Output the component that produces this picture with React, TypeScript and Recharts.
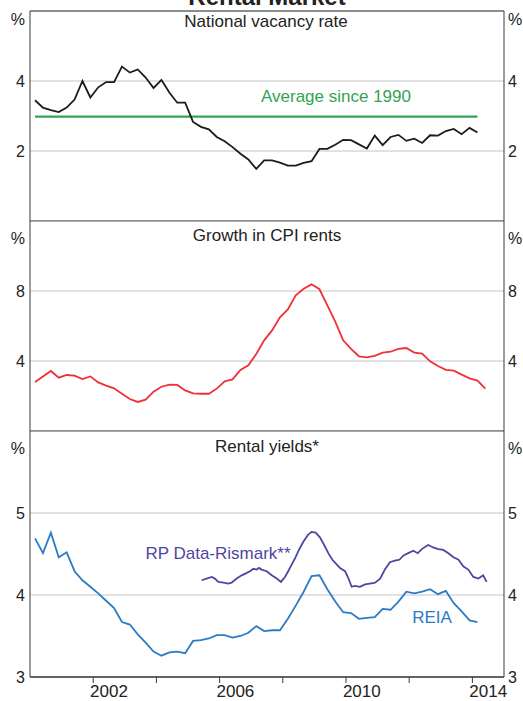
import { LineChart, Line, XAxis, YAxis, CartesianGrid } from "recharts";

const FONT = "'Liberation Sans', Arial, sans-serif";
const TEXT = "#222";
const FRAME = "#3a3a3a";
const GRID = "#c4c4c4";

// quarterly series start at Q1 2000
const quarterStart = 2000.16;

const vacancyRate = [
  3.45, 3.24, 3.17, 3.11, 3.24, 3.47, 4.0, 3.53, 3.82, 3.97,
  3.97, 4.41, 4.24, 4.33, 4.1, 3.8, 4.03, 3.67, 3.38, 3.38,
  2.83, 2.69, 2.62, 2.4, 2.28, 2.11, 1.92, 1.76, 1.49, 1.73,
  1.73, 1.67, 1.58, 1.58, 1.66, 1.71, 2.06, 2.06, 2.18, 2.32,
  2.31, 2.19, 2.07, 2.44, 2.17, 2.4, 2.46, 2.29, 2.35, 2.23,
  2.45, 2.44, 2.57, 2.63, 2.48, 2.66, 2.53,
];
const averageSince1990 = 2.98;

const cpiRents = [
  2.8, 3.12, 3.43, 3.05, 3.2, 3.16, 2.97, 3.12, 2.78, 2.59,
  2.44, 2.13, 1.83, 1.66, 1.79, 2.25, 2.53, 2.65, 2.63, 2.32,
  2.15, 2.13, 2.13, 2.42, 2.84, 2.95, 3.49, 3.75, 4.4, 5.18,
  5.75, 6.5, 6.95, 7.75, 8.13, 8.38, 8.1, 7.18, 6.25, 5.18,
  4.69, 4.27, 4.21, 4.29, 4.48, 4.53, 4.69, 4.74, 4.48, 4.42,
  3.98, 3.71, 3.49, 3.45, 3.22, 3.01, 2.88, 2.42,
];

const reiaYield = [
  4.69, 4.51, 4.76, 4.46, 4.52, 4.29, 4.18, 4.1, 4.02, 3.93,
  3.84, 3.67, 3.64, 3.52, 3.42, 3.31, 3.26, 3.3, 3.31, 3.29,
  3.44, 3.45, 3.47, 3.51, 3.51, 3.48, 3.5, 3.54, 3.62, 3.56,
  3.57, 3.57, 3.71, 3.87, 4.04, 4.23, 4.24, 4.07, 3.92, 3.79,
  3.78, 3.71, 3.72, 3.73, 3.83, 3.82, 3.92, 4.04, 4.02, 4.04,
  4.07, 4.01, 4.05, 3.9, 3.8, 3.69, 3.67,
];

const rpDates = [
  2005.43, 2005.59, 2005.75, 2005.85, 2005.96, 2006.12, 2006.28, 2006.38, 2006.54, 2006.7,
  2006.86, 2006.96, 2007.07, 2007.17, 2007.25, 2007.33, 2007.49, 2007.65, 2007.81, 2007.94,
  2008.07, 2008.17, 2008.28, 2008.39, 2008.51, 2008.65, 2008.79, 2008.91, 2009.04, 2009.18,
  2009.31, 2009.44, 2009.57, 2009.71, 2009.81, 2009.97, 2010.07, 2010.18, 2010.28, 2010.44,
  2010.6, 2010.76, 2010.92, 2011.08, 2011.23, 2011.39, 2011.55, 2011.69, 2011.81, 2011.97,
  2012.13, 2012.27, 2012.4, 2012.6, 2012.76, 2012.92, 2013.08, 2013.24, 2013.4, 2013.56,
  2013.71, 2013.87, 2014.03, 2014.19, 2014.34, 2014.45,
];
const rpYield = [
  4.18, 4.2, 4.22, 4.2, 4.16, 4.15, 4.14, 4.15, 4.2, 4.24,
  4.27, 4.29, 4.32, 4.31, 4.33, 4.31, 4.29, 4.24, 4.2, 4.16,
  4.22, 4.29, 4.37, 4.45, 4.55, 4.65, 4.73, 4.77, 4.76, 4.7,
  4.61, 4.51, 4.43, 4.37, 4.33, 4.29, 4.21, 4.1, 4.11, 4.1,
  4.13, 4.14, 4.15, 4.2, 4.31, 4.4, 4.42, 4.43, 4.48, 4.51,
  4.54, 4.51, 4.56, 4.61, 4.58, 4.56, 4.55, 4.51, 4.46, 4.43,
  4.35, 4.31, 4.22, 4.2, 4.24, 4.16,
];

const yearTicks = [2001, 2002, 2003, 2004, 2005, 2006, 2007, 2008, 2009, 2010, 2011, 2012, 2013, 2014];
const yearLabels = [2002.5, 2006.5, 2010.5, 2014.5];

const quarterly = (vals: number[]) => vals.map((v, i) => ({ x: quarterStart + i * 0.25, v }));
const vacancyData = quarterly(vacancyRate);
const cpiData = quarterly(cpiRents);
const reiaData = quarterly(reiaYield);
const rpData = rpDates.map((x, i) => ({ x, v: rpYield[i] }));
const avgData = [
  { x: vacancyData[0].x, v: averageSince1990 },
  { x: vacancyData[vacancyData.length - 1].x, v: averageSince1990 },
];

function PanelTick(props: any) {
  const { x, y, payload, textAnchor, top } = props;
  const isTop = payload.value === top;
  return (
    <text x={x} y={isTop ? y + 8 : y} dy="0.35em" textAnchor={textAnchor} fontSize={16} fill={TEXT} fontFamily={FONT}>
      {isTop ? "%" : payload.value}
    </text>
  );
}

const NoLabel = () => <g />;

// mirrored axes take no room, so they can draw the panel borders and inner ticks
function borderAxis(id: string, orientation: "top" | "bottom", ticks?: number[]) {
  return (
    <XAxis
      key={id}
      xAxisId={id}
      orientation={orientation}
      type="number"
      dataKey="x"
      domain={[2000, 2015]}
      allowDataOverflow
      mirror
      height={1}
      ticks={ticks}
      tick={ticks ? NoLabel : false}
      tickSize={-6}
      tickMargin={0}
      tickLine={ticks ? { stroke: FRAME } : false}
      axisLine={{ stroke: FRAME, strokeWidth: 1.2 }}
    />
  );
}

function frame(domain: number[], ticks: number[]) {
  const top = domain[1];
  return [
    <CartesianGrid key="g" xAxisId="main" yAxisId="left" vertical={false} stroke={GRID} />,
    <YAxis
      key="yl"
      yAxisId="left"
      orientation="left"
      width={30}
      domain={domain}
      ticks={ticks}
      allowDataOverflow
      tickLine={false}
      tickSize={0}
      tickMargin={5}
      axisLine={{ stroke: FRAME }}
      tick={(p: any) => <PanelTick {...p} top={top} />}
    />,
    <YAxis
      key="yr"
      yAxisId="right"
      orientation="right"
      width={19}
      domain={domain}
      ticks={ticks}
      allowDataOverflow
      tickLine={false}
      tickSize={0}
      tickMargin={4}
      axisLine={{ stroke: FRAME }}
      tick={(p: any) => <PanelTick {...p} top={top} />}
    />,
  ];
}

const lineProps = {
  xAxisId: "main",
  yAxisId: "left",
  dataKey: "v",
  type: "linear" as const,
  dot: false,
  activeDot: false,
  isAnimationActive: false,
};

export default function App() {
  return (
    <div style={{ position: "absolute", left: 0, top: 0, width: 523, height: 701, background: "#fff", overflow: "hidden" }}>
      <div style={{ position: "absolute", left: 0, top: 0 }}>
        <LineChart width={523} height={223} margin={{ top: 11, right: 0, bottom: 2, left: 0 }}>
          {frame([0, 6], [2, 4, 6])}
          {borderAxis("main", "bottom")}
          {borderAxis("top", "top")}
          <Line {...lineProps} data={avgData} stroke="#34a352" strokeWidth={2.2} />
          <Line {...lineProps} data={vacancyData} stroke="#1c1c1c" strokeWidth={1.8} />
        </LineChart>
      </div>
      <div style={{ position: "absolute", left: 0, top: 221 }}>
        <LineChart width={523} height={212} margin={{ top: 0, right: 0, bottom: 2, left: 0 }}>
          {frame([0, 12], [4, 8, 12])}
          {borderAxis("main", "bottom")}
          <Line {...lineProps} data={cpiData} stroke="#ee3137" strokeWidth={1.8} />
        </LineChart>
      </div>
      <div style={{ position: "absolute", left: 0, top: 431 }}>
        <LineChart width={523} height={270} margin={{ top: 0, right: 0, bottom: 0, left: 0 }}>
          {frame([3, 6], [3, 4, 5, 6])}
          <XAxis
            xAxisId="main"
            type="number"
            dataKey="x"
            domain={[2000, 2015]}
            ticks={yearLabels}
            allowDataOverflow
            height={24}
            tickLine={false}
            axisLine={{ stroke: FRAME, strokeWidth: 1.2 }}
            tickSize={0}
            tickMargin={8}
            tickFormatter={(v: number) => String(Math.floor(v))}
            tick={{ fontSize: 17, fill: TEXT, fontFamily: FONT }}
          />
          {borderAxis("yt", "bottom", yearTicks)}
          <Line {...lineProps} data={reiaData} stroke="#2b7bc6" strokeWidth={1.8} />
          <Line {...lineProps} data={rpData} stroke="#4f46a2" strokeWidth={1.8} />
        </LineChart>
      </div>
      <svg width={523} height={701} style={{ position: "absolute", left: 0, top: 0, pointerEvents: "none" }} fontFamily={FONT}>
        <text x={267} y={4.5} textAnchor="middle" fontSize={24} fontWeight="bold" fill={TEXT}>
          Rental Market
        </text>
        <text x={266} y={27} textAnchor="middle" fontSize={17} fill={TEXT}>National vacancy rate</text>
        <text x={336} y={101.5} textAnchor="middle" fontSize={17} fill="#34a352">Average since 1990</text>
        <text x={267} y={241} textAnchor="middle" fontSize={17} fill={TEXT}>Growth in CPI rents</text>
        <text x={267} y={451.5} textAnchor="middle" fontSize={17} fill={TEXT}>Rental yields*</text>
        <text x={218} y={559} textAnchor="middle" fontSize={17} fill="#4f46a2">RP Data-Rismark**</text>
        <text x={432} y={622.5} textAnchor="middle" fontSize={17} fill="#2b7bc6">REIA</text>
      </svg>
    </div>
  );
}
